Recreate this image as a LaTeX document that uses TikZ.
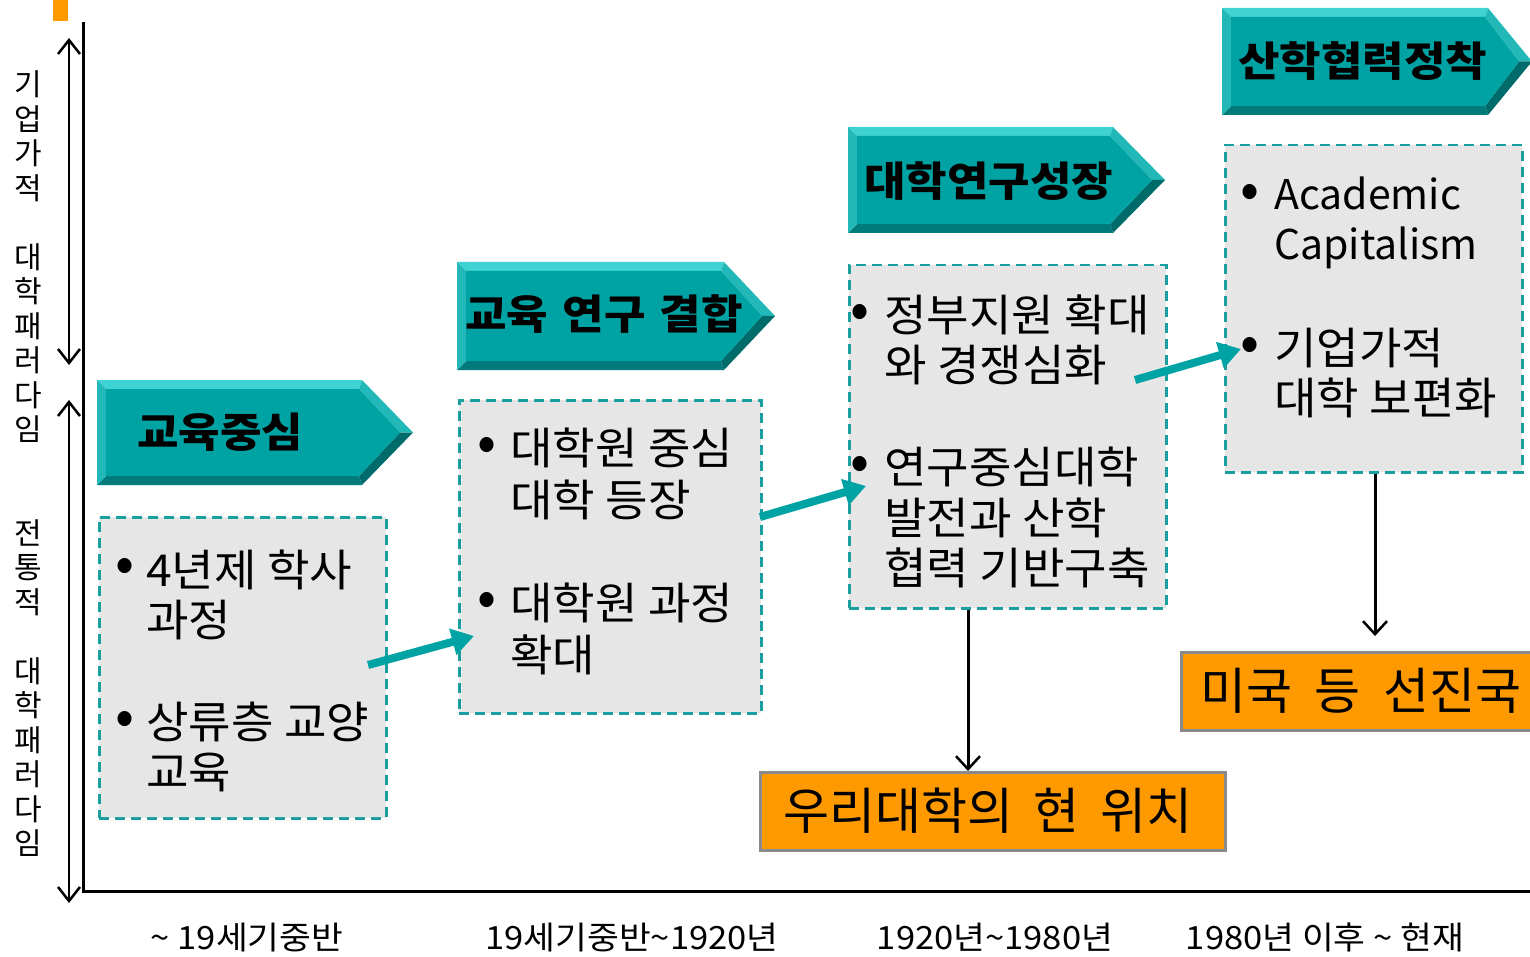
\documentclass[tikz,border=0pt]{standalone}
\usepackage{fontspec}
\usepackage{graphicx}
\setmainfont{Noto Sans CJK KR}
\newfontfamily\kfont[FakeStretch=1.05]{Noto Sans CJK KR}
\newfontfamily\lfont[FakeStretch=1.08]{Noto Sans CJK KR}
\newfontfamily\hfont[FakeStretch=1.1]{Noto Sans CJK KR}
\usetikzlibrary{arrows.meta,calc}
\definecolor{tealface}{HTML}{00A3A3}
\definecolor{tealtop}{HTML}{3FD2D2}
\definecolor{tealleft}{HTML}{22B8B8}
\definecolor{tealdark}{HTML}{006B6B}
\definecolor{tealbot}{HTML}{007A7A}
\definecolor{tealline}{HTML}{1A9E9E}
\definecolor{boxgray}{HTML}{E6E6E6}
\definecolor{orng}{HTML}{FF9900}
\definecolor{edgegray}{HTML}{8A8A8A}
\newcommand\bevarrow[5]{% L T N R B
  \pgfmathsetmacro\bvm{(#2+#5)/2}
  \fill[tealtop] (#1,#2) -- (#3,#2) -- ({#3-3},{#2+9}) -- ({#1+9},{#2+9}) -- cycle;
  \fill[tealleft] (#3,#2) -- (#4,\bvm) -- ({#4-13},\bvm) -- ({#3-3},{#2+9}) -- cycle;
  \fill[tealdark] (#4,\bvm) -- (#3,#5) -- ({#3-3},{#5-9}) -- ({#4-13},\bvm) -- cycle;
  \fill[tealbot] (#3,#5) -- (#1,#5) -- ({#1+9},{#5-9}) -- ({#3-3},{#5-9}) -- cycle;
  \fill[tealleft] (#1,#2) -- ({#1+9},{#2+9}) -- ({#1+9},{#5-9}) -- (#1,#5) -- cycle;
  \fill[tealface] ({#1+9},{#2+9}) -- ({#3-3},{#2+9}) -- ({#4-13},\bvm) -- ({#3-3},{#5-9}) -- ({#1+9},{#5-9}) -- cycle;
}
\begin{document}
\begin{tikzpicture}[x=1pt,y=-1pt,
  dbox/.style={draw=tealline, fill=boxgray, dash pattern=on 10pt off 6pt, line width=2.5pt, anchor=north west, inner sep=0},
  obox/.style={draw=edgegray, fill=orng, line width=2.5pt, anchor=north west, inner sep=0},
  txt/.style={font=\kfont\fontsize{44}{50}\selectfont, inner sep=0, anchor=base west},
  ltxt/.style={font=\fontsize{41}{50}\selectfont, inner sep=0, anchor=base west},
  bul/.style={font=\fontsize{56}{56}\selectfont, inner sep=0, anchor=center},
  head/.style={font=\hfont\fontsize{41}{48}\bfseries\selectfont, inner sep=0, anchor=base west},
  lab/.style={font=\lfont\fontsize{32}{36}\selectfont, inner sep=0, anchor=base},
  otxt/.style={font=\fontsize{50}{54}\selectfont, inner sep=0},
  vtxt/.style={font=\fontsize{30}{34.5}\selectfont, inner sep=0, align=center, anchor=center},
  tarrow/.style={draw=tealface, line width=8pt, -{Triangle[length=22pt,width=26pt]}},
  blk/.style={draw=black, line width=3pt, -{Straight Barb[length=13pt,width=24pt,line width=2.5pt]}},
  dblk/.style={draw=black, line width=2.5pt, {Straight Barb[length=14pt,width=22pt,line width=2.5pt]}-{Straight Barb[length=14pt,width=22pt,line width=2.5pt]}}]
\useasboundingbox (0,0) rectangle (1530,957);
\clip (0,0) rectangle (1530,957);
% corner mark
\fill[orng] (53,0) rectangle (68,21);
% axes
\coordinate (ax0) at (83,22);
\coordinate (axo) at (83,891);
\coordinate (ax1) at (1530,891);
\draw[line width=3pt] (ax0) -- (axo) -- (ax1);
% left double arrows
\coordinate (d1a) at (69,38);
\coordinate (d1b) at (69,365);
\coordinate (d2a) at (69,400);
\coordinate (d2b) at (69,903);
\draw[dblk] (d1a) -- (d1b);
\draw[dblk] (d2a) -- (d2b);
\node[vtxt] (v1) at (28,257) {기\\업\\가\\적\\[34.5pt]대\\학\\패\\러\\다\\임};
\node[vtxt] (v2) at (28,688) {전\\통\\적\\[34.5pt]대\\학\\패\\러\\다\\임};
% heading arrows
\bevarrow{97}{380}{362}{413}{485}
\node[head] (h1) at (137,447) {교육중심};
\bevarrow{457}{262}{724}{775}{370}
\node[head] (h2) at (465,330) {교육\hspace{0.35em}연구\hspace{0.35em}결합};
\bevarrow{848}{127}{1113}{1165}{233}
\node[head] (h3) at (864,197) {대학연구성장};
\bevarrow{1222}{8}{1488}{1532}{115}
\node[head] (h4) at (1238,77) {산학협력정착};
% dashed boxes
\node[dbox, minimum width=287pt, minimum height=301pt] (b1) at (98,516) {};
\node[dbox, minimum width=302pt, minimum height=313pt] (b2) at (458,399) {};
\node[dbox, minimum width=317pt, minimum height=343pt] (b3) at (848,264) {};
\node[dbox, minimum width=297pt, minimum height=327pt] (b4) at (1224,144) {};
% box 1 text
\node[bul] (b1p1) at (125,570) {•};
\node[txt] (b1l1) at (146,586) {4년제 학사};
\node[txt] (b1l2) at (146,636) {과정};
\node[bul] (b1p2) at (125,723) {•};
\node[txt] (b1l3) at (146,738) {상류층 교양};
\node[txt] (b1l4) at (146,788) {교육};
% box 2 text
\node[bul] (b2p1) at (487,449) {•};
\node[txt] (b2l1) at (510,464) {대학원 중심};
\node[txt] (b2l2) at (510,516) {대학 등장};
\node[bul] (b2p2) at (487,604) {•};
\node[txt] (b2l3) at (510,619) {대학원 과정};
\node[txt] (b2l4) at (510,671) {확대};
% box 3 text
\node[bul] (b3p1) at (860,316) {•};
\node[txt] (b3l1) at (884,331) {정부지원 확대};
\node[txt] (b3l2) at (884,381) {와 경쟁심화};
\node[bul] (b3p2) at (860,468) {•};
\node[txt] (b3l3) at (884,483) {연구중심대학};
\node[txt] (b3l4) at (884,534) {발전과 산학};
\node[txt] (b3l5) at (884,584) {협력 기반구축};
% box 4 text
\node[bul] (b4p1) at (1250,196) {•};
\node[ltxt] (b4l1) at (1274,210) {Academic};
\node[ltxt] (b4l2) at (1274,260) {Capitalism};
\node[bul] (b4p2) at (1250,349) {•};
\node[txt] (b4l3) at (1274,364) {기업가적};
\node[txt] (b4l4) at (1274,414) {대학 보편화};
% orange boxes
\node[obox, minimum width=465pt, minimum height=78pt] (o1) at (759,771) {};
\node[otxt] (o1t) at (988,811) {우리대학의\hspace{0.42em}현\hspace{0.42em}위치};
\node[obox, minimum width=400pt, minimum height=78pt] (o2) at (1180,651) {};
\node[otxt, anchor=west] (o2t) at (1200,691) {미국\hspace{0.45em}등\hspace{0.45em}선진국};
% teal connectors
\coordinate (t1s) at (368,665); \coordinate (t1e) at (474,636);
\coordinate (t2s) at (760,517); \coordinate (t2e) at (866,486);
\coordinate (t3s) at (1135,380); \coordinate (t3e) at (1241,349);
\draw[tarrow] (t1s) -- (t1e);
\draw[tarrow] (t2s) -- (t2e);
\draw[tarrow] (t3s) -- (t3e);
% black connectors
\coordinate (k3) at (968,0);
\coordinate (k4) at (1375,0);
\draw[blk] (b3.south -| k3) -- (o1.north -| k3);
\draw[blk, shorten >=15pt] (b4.south -| k4) -- (o2.north -| k4);
% bottom labels
\node[lab] (x1) at (247,949) {\textasciitilde\ 19세기중반};
\node[lab] (x2) at (632,949) {19세기중반\textasciitilde1920년};
\node[lab] (x3) at (995,949) {1920년\textasciitilde1980년};
\node[lab] (x4) at (1325,949) {1980년 이후 \textasciitilde\ 현재};
\end{tikzpicture}
\end{document}
